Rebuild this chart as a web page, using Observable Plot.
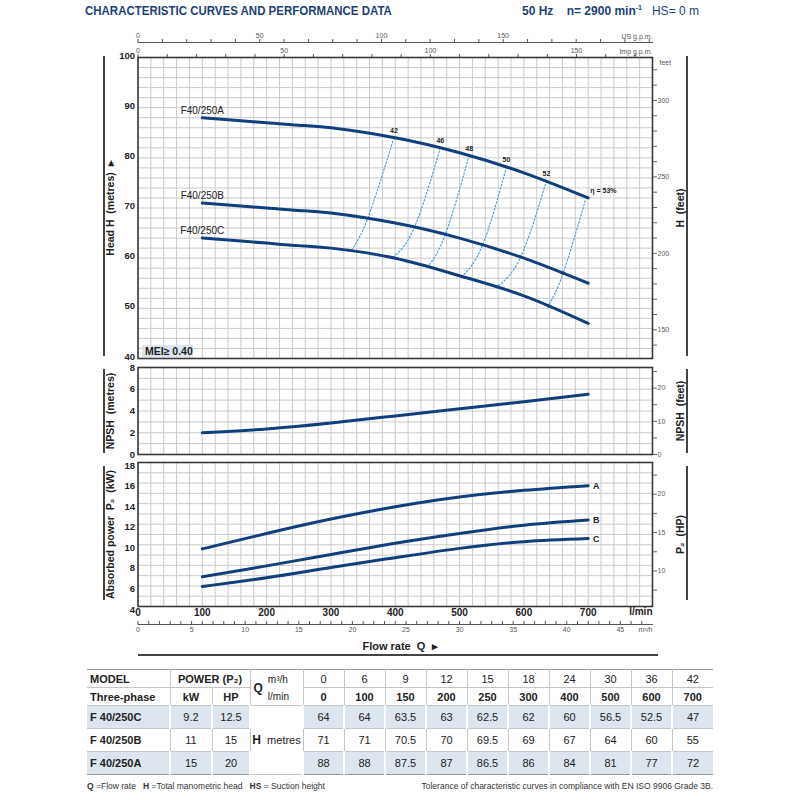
<!DOCTYPE html>
<html><head><meta charset="utf-8">
<script src="https://cdn.jsdelivr.net/npm/d3@7"></script>
<script src="https://cdn.jsdelivr.net/npm/@observablehq/plot@0.6"></script>
<style>
body{margin:0;background:#fff;}
#wrap{position:relative;width:800px;height:800px;overflow:hidden;background:#fff;font-family:"Liberation Sans",Arial,sans-serif;color:#222}
#wrap svg{overflow:visible}
.abs{position:absolute}
.bar{position:absolute;background:#444;width:1.5px}
#title{left:85px;top:3px;font-size:13.5px;font-weight:bold;color:#1d3f77;white-space:nowrap;transform:scaleX(0.85);transform-origin:0 0}
#title2{left:522px;top:4px;font-size:12px;color:#1d3f77;white-space:nowrap}
#mei{left:142px;top:345px;width:51px;height:12px;background:#dbe5ee;font-size:10.5px;font-weight:bold;line-height:12px;padding-left:3px;box-sizing:border-box}
#flow{left:300px;width:200px;top:640px;text-align:center;font-size:11px;font-weight:bold}
#tbl{position:absolute;left:87px;top:669px;width:626px;border-collapse:collapse;table-layout:fixed;font-size:11px}
#tbl td{border:1px solid #c4c4c4;text-align:center;padding:0;white-space:nowrap}
#tbl tr td:first-child{border-left:none;text-align:left;padding-left:3px}
#tbl tr td:last-child{border-right:none}
#tbl tr.hd td{height:17px}
#tbl tr.dr td{height:22px}
#tbl tr.sh td{background:#dde6ee;border-left-color:#fff;border-right-color:#fff;border-left-width:2px;border-right-width:2px}
#tbl tr.top td{border-top:1.5px solid #999}
#tbl tr.last td{border-bottom:1.5px solid #999}
#tbl td.hcell{background:#fff !important;border-left:1px solid #c4c4c4 !important;border-right:1px solid #c4c4c4 !important}
.b{font-weight:bold}
#foot{left:87px;top:781px;width:626px;font-size:8.5px;display:flex;justify-content:space-between;color:#333}
</style></head><body><div id="wrap"></div>
<script>
// ---------- data ----------
const flowLmin = [0,100,150,200,250,300,400,500,600,700];
const flowM3h  = [0,6,9,12,15,18,24,30,36,42];
const models    = ["F 40/250C","F 40/250B","F 40/250A"];
const curveNames = ["F40/250C","F40/250B","F40/250A"];
const powerKW  = [9.2, 11, 15];
const powerHP  = [12.5, 15, 20];
const headC = [64,64,63.5,63,62.5,62,60,56.5,52.5,47];
const headB = [71,71,70.5,70,69.5,69,67,64,60,55];
const headA = [88,88,87.5,87,86.5,86,84,81,77,72];

const npshFlow = [100,200,300,400,500,600,700];
const npshM    = [2.0,2.35,2.9,3.55,4.2,4.85,5.55];

const powerFlow = [100,200,300,400,500,600,700];
const p2A = [9.6,11.1,12.5,13.7,14.65,15.3,15.75];
const p2B = [6.9,7.95,9.05,10.15,11.1,11.9,12.4];
const p2C = [5.95,6.8,7.8,8.75,9.65,10.3,10.6];
const powerLetters = ["A","B","C"];

// efficiency iso-lines (%), read where each crosses curves A, B and C
const etaLevels = [42,46,48,50,52,53];
const etaFlowA = [398,470,515,573,635,697];
const etaHeadA = [84,82.0,80.5,78.2,75.4,72.15];
const etaFlowB = [357,430,478,536,595,661];
const etaHeadB = [67.9,66.2,64.75,62.7,60.25,57.0];
const etaFlowC = [331,396,451,504,558,638];
const etaHeadC = [61.4,60.1,58.4,56.35,54.25,50.5];

// secondary axes tick values
const usTicksMajor = [0,50,100,150];
const usTicksMinor = [0,10,20,30,40,50,60,70,80,90,100,110,120,130,140,150,160,170,180,190,200,210];
const impTicksMajor = [0,50,100,150];
const impTicksMinor = [0,10,20,30,40,50,60,70,80,90,100,110,120,130,140,150,160,170];
const m3hTicksMajor = [0,5,10,15,20,25,30,35,40,45];
const m3hTicksMinor = [0,1,2,3,4,5,6,7,8,9,10,11,12,13,14,15,16,17,18,19,20,21,22,23,24,25,26,27,28,29,30,31,32,33,34,35,36,37,38,39,40,41,42,43,44,45,46,47];
const lminTicks = [0,100,200,300,400,500,600,700];
const headTicks = [40,50,60,70,80,90,100];
const feetTicks = [140,150,160,170,180,190,200,210,220,230,240,250,260,270,280,290,300,310,320];
const npshTicks = [0,2,4,6,8];
const npshFeetTicks = [0,5,10,15,20,25];
const kwTicks = [4,6,8,10,12,14,16,18];
const hpTicks = [7.5,10,12.5,15,17.5,20,22.5];

// unit conversions
const FT = 3.28084, KW_PER_HP = 0.7457, L_PER_USG = 3.78541, L_PER_IMPG = 4.54609, L_PER_M3 = 1000/60;

// ---------- helpers ----------
const wrap = document.getElementById("wrap");
const navy = "#123f7c";
const gridC = "#cbcbcb";
const FONT = '"Liberation Sans",Arial,sans-serif';
const style = {background:"none", overflow:"visible", fontFamily:FONT, color:"#222"};
const common = {width:800, marginLeft:137.5, marginRight:148};
function place(el, top){ el.style.position="absolute"; el.style.left="0px"; el.style.top=top+"px"; wrap.appendChild(el); }
function addDiv(cls, id, html, css){ const d=document.createElement("div"); if(cls) d.className=cls; if(id) d.id=id; d.innerHTML=html; if(css) d.style.cssText+=css; wrap.appendChild(d); return d; }
const fmtEvery = (conv, step) => d => { const v = Math.round(conv(d)*2)/2; return (Math.abs(v % step) < 1e-6) ? String(v) : ""; };
const sideLabel = (txt, side) => Plot.text([txt], {text:d=>d, frameAnchor:side, dx: side==="left" ? -27 : 28, rotate:-90, textAnchor:"middle", lineAnchor:"middle", fontSize:10.5, fontWeight:"bold", fill:"#222"});
const leftAxis = (ticks, dy) => Plot.axisY(ticks, {anchor:"left", tickSize:0, tickPadding:3, fontSize:9.5, fontWeight:"bold", fill:"#222", label:null, dy});

// ---------- title ----------
addDiv("abs","title","CHARACTERISTIC CURVES AND PERFORMANCE DATA");
addDiv("abs","title2",'<b>50 Hz&nbsp;&nbsp;&nbsp; n= 2900 min<sup style="font-size:7px">-1</sup></b>&nbsp;&nbsp;&nbsp;HS= 0 m');

// ---------- top flow axes ----------
function unitAxis(domainMax, minor, major, unit){
  return Plot.plot({
    ...common, height:25, marginTop:19, marginBottom:3, style,
    x:{domain:[0, domainMax], axis:null}, y:{axis:null},
    marks:[
      Plot.tickX(minor, {x:d=>d, stroke:"#555", strokeWidth:1}),
      Plot.frame({anchor:"bottom", stroke:"#555", strokeWidth:1}),
      Plot.axisX(major, {anchor:"top", tickSize:0, tickPadding:1.5, fontSize:7, fill:"#555", label:null}),
      Plot.text([unit], {text:d=>d, frameAnchor:"top-right", dy:-5, textAnchor:"end", fontSize:7, fill:"#555"})
    ]
  });
}
place(unitAxis(800/L_PER_USG, usTicksMinor, usTicksMajor, "US g.p.m."), 20);
place(unitAxis(800/L_PER_IMPG, impTicksMinor, impTicksMajor, "Imp g.p.m."), 35);

// ---------- head chart ----------
const headSeries = [headC, headB, headA];
const headRows = [];
headSeries.forEach((s,i)=>flowLmin.forEach((q,j)=>{ if(q>=100) headRows.push({model:curveNames[i], q, h:s[j]}); }));
const labelRows = headRows.filter(d=>d.q===100);
const etaRows = [];
etaLevels.forEach((e,i)=>{
  etaRows.push({eta:e, q:etaFlowA[i], h:etaHeadA[i]});
  etaRows.push({eta:e, q:etaFlowB[i], h:etaHeadB[i]});
  etaRows.push({eta:e, q:etaFlowC[i], h:etaHeadC[i]});
});
const etaTop = etaLevels.map((e,i)=>({eta:e, q:etaFlowA[i], h:etaHeadA[i]}));
const etaLast = etaLevels.length-1;
const etaDots = [{q:etaFlowB[etaLast], h:etaHeadB[etaLast]},{q:etaFlowC[etaLast], h:etaHeadC[etaLast]}];

const headPlot = Plot.plot({
  ...common, height:318, marginTop:12, marginBottom:5, style,
  x:{domain:[0,800], axis:null}, y:{domain:[40,100], axis:null},
  marks:[
    Plot.gridX(d3.range(0,801,20), {stroke:gridC, strokeOpacity:1, strokeWidth:1}),
    Plot.gridY(d3.range(40,101,2), {stroke:gridC, strokeOpacity:1, strokeWidth:1}),
    Plot.frame({stroke:"#3a3a3a", strokeWidth:1.6}),
    leftAxis(headTicks, -2),
    Plot.axisY(feetTicks.map(f=>f/FT), {anchor:"right", tickSize:4, tickPadding:1, stroke:"#666", fontSize:7, fill:"#555", label:null, tickFormat:fmtEvery(d=>d*FT,50)}),
    Plot.text(["feet"], {text:d=>d, frameAnchor:"top-right", dx:7, dy:3, textAnchor:"start", fontSize:7, fill:"#555"}),
    Plot.line(etaRows, {x:"q", y:"h", z:"eta", curve:"natural", stroke:"#3f9ad8", strokeWidth:1.1, strokeDasharray:"1.6,2"}),
    Plot.line(headRows, {x:"q", y:"h", z:"model", curve:"natural", stroke:navy, strokeWidth:3}),
    Plot.dot(etaDots, {x:"q", y:"h", r:1.8, fill:navy}),
    Plot.text(labelRows, {x:"q", y:"h", text:"model", dy:-7, fontSize:10, fill:"#222"}),
    Plot.text(etaTop.filter(d=>d.eta!==53), {x:"q", y:"h", text:d=>String(d.eta), dy:-7, fontSize:7, fontWeight:"bold", fill:"#222"}),
    Plot.text(etaTop.filter(d=>d.eta===53), {x:"q", y:"h", text:d=>"η = "+d.eta+"%", dx:4, dy:-6, textAnchor:"start", fontSize:7, fontWeight:"bold", fill:"#222"}),
    sideLabel("Head H  (metres)  ▸", "left"),
    sideLabel("H  (feet)", "right")
  ]
});
place(headPlot, 45);

// ---------- NPSH chart ----------
const npshRows = npshFlow.map((q,i)=>({q, v:npshM[i]}));
const npshPlot = Plot.plot({
  ...common, height:99, marginTop:7, marginBottom:5, style,
  x:{domain:[0,800], axis:null}, y:{domain:[0,8], axis:null},
  marks:[
    Plot.gridX(d3.range(0,801,20), {stroke:gridC, strokeOpacity:1, strokeWidth:1}),
    Plot.gridY(d3.range(0,9,1), {stroke:gridC, strokeOpacity:1, strokeWidth:1}),
    Plot.frame({stroke:"#3a3a3a", strokeWidth:1.6}),
    leftAxis(npshTicks, 0),
    Plot.axisY(npshFeetTicks.map(f=>f/FT), {anchor:"right", tickSize:4, tickPadding:1, stroke:"#666", fontSize:7, fill:"#555", label:null, tickFormat:fmtEvery(d=>d*FT,10)}),
    Plot.line(npshRows, {x:"q", y:"v", curve:"natural", stroke:navy, strokeWidth:3}),
    sideLabel("NPSH  (metres)", "left"),
    sideLabel("NPSH  (feet)", "right")
  ]
});
place(npshPlot, 360);

// ---------- power chart ----------
const pSeries = [p2A, p2B, p2C];
const powerRows = [];
pSeries.forEach((s,i)=>powerFlow.forEach((q,j)=>powerRows.push({c:powerLetters[i], q, p:s[j]})));
const powerEnds = powerRows.filter(d=>d.q===700);
const powerPlot = Plot.plot({
  ...common, height:166, marginTop:7, marginBottom:15, style,
  x:{domain:[0,800], axis:null}, y:{domain:[4,18], axis:null},
  marks:[
    Plot.gridX(d3.range(0,801,20), {stroke:gridC, strokeOpacity:1, strokeWidth:1}),
    Plot.gridY(d3.range(4,19,1), {stroke:gridC, strokeOpacity:1, strokeWidth:1}),
    Plot.frame({stroke:"#3a3a3a", strokeWidth:1.6}),
    leftAxis(kwTicks, 3),
    Plot.axisY(hpTicks.map(h=>h*KW_PER_HP), {anchor:"right", tickSize:4, tickPadding:1, stroke:"#666", fontSize:7, fill:"#555", label:null, tickFormat:fmtEvery(d=>d/KW_PER_HP,5)}),
    Plot.axisX(lminTicks, {anchor:"bottom", tickSize:0, tickPadding:2, fontSize:10, fontWeight:"bold", fill:"#222", label:null}),
    Plot.text(["l/min"], {text:d=>d, frameAnchor:"bottom-right", dy:8, textAnchor:"end", fontSize:10, fontWeight:"bold", fill:"#222"}),
    Plot.line(powerRows, {x:"q", y:"p", z:"c", curve:"natural", stroke:navy, strokeWidth:3}),
    Plot.text(powerEnds, {x:"q", y:"p", text:"c", dx:8, fontSize:9, fontWeight:"bold", fill:"#222"}),
    sideLabel("Absorbed power  P₂  (kW)", "left"),
    sideLabel("P₂  (HP)", "right")
  ]
});
place(powerPlot, 455);

// ---------- m3/h axis ----------
const m3Plot = Plot.plot({
  ...common, height:35, marginTop:16, marginBottom:16, style,
  x:{domain:[0,800/L_PER_M3], axis:null}, y:{axis:null},
  marks:[
    Plot.tickX(m3hTicksMinor, {x:d=>d, stroke:"#555", strokeWidth:1}),
    Plot.frame({anchor:"bottom", stroke:"#555", strokeWidth:1}),
    Plot.axisX(m3hTicksMajor, {anchor:"bottom", tickSize:0, tickPadding:3, fontSize:7, fill:"#555", label:null}),
    Plot.text(["m³/h"], {text:d=>d, frameAnchor:"bottom-right", dy:7, textAnchor:"end", fontSize:7, fill:"#555"})
  ]
});
place(m3Plot, 605);

addDiv("abs","flow","Flow rate&nbsp; Q&nbsp; ▸");
// decorative side bars
[[56,300],[369,84],[466,134]].forEach(([t,h])=>{ addDiv("bar",null,"","left:103px;top:"+t+"px;height:"+h+"px"); addDiv("bar",null,"","left:686px;top:"+t+"px;height:"+h+"px"); });
addDiv("bar",null,"","left:138px;top:654px;width:520px;height:1.5px");
addDiv("abs","mei","MEI≥ 0.40");

// ---------- table ----------
let html = '<table id="tbl"><colgroup><col style="width:83px"><col style="width:42px"><col style="width:38px"><col style="width:53px">' + flowLmin.map(()=>'<col style="width:41px">').join('') + '</colgroup>';
html += '<tr class="hd top"><td class="b">MODEL</td><td colspan="2" class="b">POWER (P₂)</td>' +
  '<td rowspan="2" style="text-align:left;padding-left:3px"><div style="display:flex;align-items:center"><span class="b" style="font-size:12px;margin-right:5px">Q</span><span style="line-height:17px;font-size:10px">m³/h<br>l/min</span></div></td>' +
  flowM3h.map(v=>'<td>'+v+'</td>').join('') + '</tr>';
html += '<tr class="hd"><td class="b">Three-phase</td><td class="b">kW</td><td class="b">HP</td>' + flowLmin.map(v=>'<td class="b">'+v+'</td>').join('') + '</tr>';
models.forEach((m,i)=>{
  const series = headSeries[i];
  const cls = 'dr' + (i!==1 ? ' sh' : '') + (i===2 ? ' last' : '');
  html += '<tr class="'+cls+'"><td class="b">'+m+'</td><td>'+powerKW[i]+'</td><td>'+powerHP[i]+'</td>';
  if(i===0) html += '<td rowspan="3" class="hcell"><b style="font-size:12px">H</b>&nbsp; metres</td>';
  html += series.map(v=>'<td>'+v+'</td>').join('') + '</tr>';
});
html += '</table>';
wrap.insertAdjacentHTML("beforeend", html);
addDiv("abs","foot",'<span><b>Q</b> =Flow rate&nbsp;&nbsp; <b>H</b> =Total manometric head&nbsp;&nbsp; <b>HS</b> = Suction height</span><span>Tolerance of characteristic curves in compliance with EN ISO 9906 Grade 3B.</span>');
</script></body></html>
